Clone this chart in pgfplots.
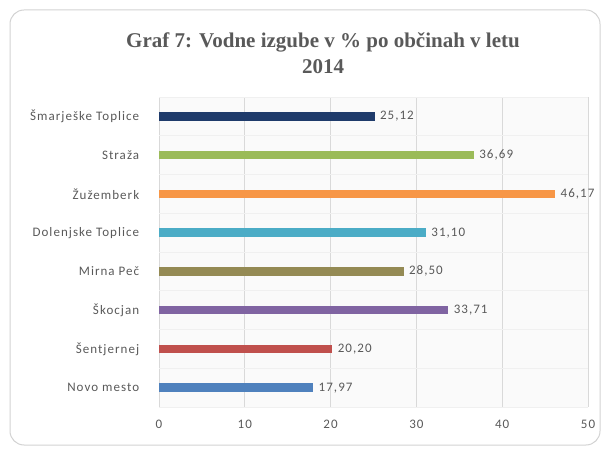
\documentclass[border=0pt]{standalone}
\usepackage{fontspec}
\setmainfont{Carlito}
\newfontfamily\titlefont{Liberation Serif}
\newfontfamily\lblfont[LetterSpace=8]{Carlito}
\usepackage{pgfplots}
\pgfplotsset{compat=1.18}

\definecolor{c1}{HTML}{1F3B6B}
\definecolor{c2}{HTML}{9BBB59}
\definecolor{c3}{HTML}{F79646}
\definecolor{c4}{HTML}{4BACC6}
\definecolor{c5}{HTML}{948A54}
\definecolor{c6}{HTML}{8064A2}
\definecolor{c7}{HTML}{C0504D}
\definecolor{c8}{HTML}{4F81BD}
\definecolor{txt}{HTML}{595959}
\definecolor{gridc}{HTML}{D9D9D9}

\begin{document}
\begin{tikzpicture}
\useasboundingbox (0pt,0pt) rectangle (608pt,450pt);
\clip (0pt,0pt) rectangle (608pt,450pt);
\draw[gray!35, line width=1pt, rounded corners=14pt] (10pt,5pt) rectangle (600pt,440pt);

\node[font=\titlefont\bfseries\fontsize{21}{26}\selectfont, text=txt, align=center]
  at (323pt,397pt) {Graf 7: Vodne izgube v \% po občinah v letu\\2014};

\begin{axis}[
    at={(159pt,43pt)}, anchor=south west,
    scale only axis, width=429pt, height=310pt,
    xbar, bar width=8.5pt, bar shift=0pt,
    xmin=0, xmax=50, xtick={0,10,...,50},
    ymin=-0.5, ymax=7.5,
    ytick={0,...,7},
    yticklabels={Novo mesto, Šentjernej, Škocjan, Mirna Peč, Dolenjske Toplice, Žužemberk, Straža, Šmarješke Toplice},
    minor ytick={-0.5,0.5,...,7.5},
    xmajorgrids, yminorgrids,
    major grid style={gridc, line width=0.6pt},
    minor grid style={gray!12, line width=0.5pt},
    axis background/.style={fill=gray!4},
    axis line style={draw=none},
    tick style={draw=none},
    ticklabel style={font=\lblfont\fontsize{13}{15}\selectfont, text=txt},
    /pgf/number format/assume math mode=true,
    xticklabel style={yshift=-10pt},
    yticklabel style={xshift=-12pt},
    nodes near coords,
    nodes near coords style={font=\lblfont\fontsize{13}{15}\selectfont, text=txt, anchor=west, xshift=2pt},
    every node near coord/.append style={/pgf/number format/.cd, fixed, fixed zerofill, precision=2, use comma},
    clip=false,
]
\addplot[fill=c8, draw=none] coordinates {(17.97,0)};
\addplot[fill=c7, draw=none] coordinates {(20.20,1)};
\addplot[fill=c6, draw=none] coordinates {(33.71,2)};
\addplot[fill=c5, draw=none] coordinates {(28.50,3)};
\addplot[fill=c4, draw=none] coordinates {(31.10,4)};
\addplot[fill=c3, draw=none] coordinates {(46.17,5)};
\addplot[fill=c2, draw=none] coordinates {(36.69,6)};
\addplot[fill=c1, draw=none] coordinates {(25.12,7)};
\end{axis}
\end{tikzpicture}
\end{document}
